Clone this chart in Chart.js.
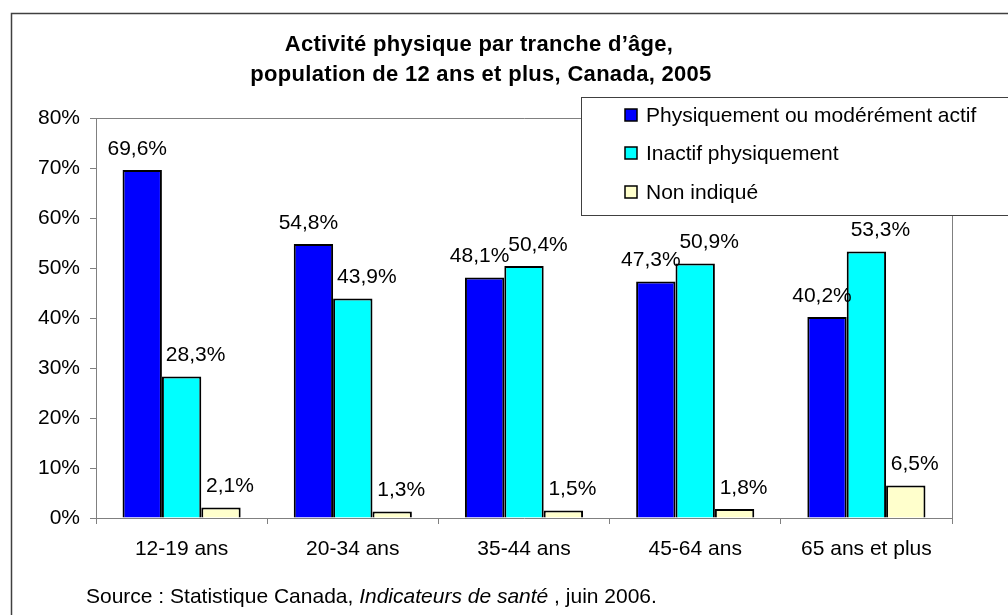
<!DOCTYPE html>
<html>
<head>
<meta charset="utf-8">
<script src="https://cdn.jsdelivr.net/npm/chart.js@4/dist/chart.umd.min.js"></script>
<style>
html,body{margin:0;padding:0;background:#fff;}
canvas{display:block;}
</style>
</head>
<body>
<canvas id="c" width="1008" height="615"></canvas>
<script>
const categories = ['12-19 ans', '20-34 ans', '35-44 ans', '45-64 ans', '65 ans et plus'];
const seriesNames = ['Physiquement ou modérément actif', 'Inactif physiquement', 'Non indiqué'];
const actif = [69.6, 54.8, 48.1, 47.3, 40.2];
const inactif = [28.3, 43.9, 50.4, 50.9, 53.3];
const nonIndique = [2.1, 1.3, 1.5, 1.8, 6.5];
const yTicks = [0, 10, 20, 30, 40, 50, 60, 70, 80];
const titleLines = ['Activité physique par tranche d\u2019âge,', 'population de 12 ans et plus, Canada, 2005'];
const sourceParts = [['Source : Statistique Canada, ', false], ['Indicateurs de santé', true], [' , juin 2006.', false]];

const colors = ['#0000FF', '#00FFFF', '#FFFFCC'];
const labelShift = [-5, 14, 9];
const FONT = '"Liberation Sans", Arial, sans-serif';
const FS = 21;

Chart.defaults.font.family = FONT;

const decorations = {
  id: 'decorations',
  beforeDraw(chart) {
    const ctx = chart.ctx;
    ctx.save();
    ctx.fillStyle = '#fff';
    ctx.fillRect(0, 0, chart.width, chart.height);
    ctx.strokeStyle = '#404040';
    ctx.lineWidth = 1.5;
    ctx.beginPath();
    ctx.moveTo(11.5, chart.height + 5);
    ctx.lineTo(11.5, 13.5);
    ctx.lineTo(chart.width + 5, 13.5);
    ctx.stroke();
    ctx.restore();
  },
  beforeDatasetsDraw(chart) {
    const ctx = chart.ctx, a = chart.chartArea;
    ctx.save();
    ctx.strokeStyle = '#808080';
    ctx.lineWidth = 1;
    ctx.beginPath();
    ctx.moveTo(a.left, a.top + 0.5);
    ctx.lineTo(a.right + 0.5, a.top + 0.5);
    ctx.lineTo(a.right + 0.5, a.bottom);
    ctx.stroke();
    ctx.restore();
  },
  afterDatasetsDraw(chart) {
    const ctx = chart.ctx;
    ctx.save();
    ctx.font = FS + 'px ' + FONT;
    ctx.fillStyle = '#000';
    ctx.textAlign = 'center';
    ctx.textBaseline = 'middle';
    chart.data.datasets.forEach((ds, i) => {
      const meta = chart.getDatasetMeta(i);
      meta.data.forEach((bar, j) => {
        const v = ds.data[j];
        ctx.fillText(v.toFixed(1).replace('.', ',') + '%', bar.x + labelShift[i], bar.y - 21);
      });
    });
    ctx.restore();
  },
  afterDraw(chart) {
    const ctx = chart.ctx;
    ctx.save();
    // title
    ctx.fillStyle = '#000';
    ctx.font = 'bold 22px ' + FONT;
    ctx.textAlign = 'center';
    ctx.textBaseline = 'middle';
    try { ctx.letterSpacing = '0.3px'; } catch (e) {}
    ctx.fillText(titleLines[0], 479, 45);
    ctx.fillText(titleLines[1], 481, 75);
    try { ctx.letterSpacing = '0px'; } catch (e) {}
    // legend
    ctx.fillStyle = '#fff';
    ctx.fillRect(581, 97, 440, 118);
    ctx.strokeStyle = '#404040';
    ctx.lineWidth = 1;
    ctx.strokeRect(581.5, 97.5, 440, 118);
    ctx.font = FS + 'px ' + FONT;
    ctx.textAlign = 'left';
    const rows = [115, 153, 192];
    chart.data.datasets.forEach((ds, i) => {
      const y = rows[i];
      ctx.fillStyle = ds.backgroundColor;
      ctx.fillRect(625, y - 6, 12, 12);
      ctx.strokeStyle = '#000';
      ctx.lineWidth = 1.5;
      ctx.strokeRect(625, y - 6, 12, 12);
      ctx.fillStyle = '#000';
      ctx.fillText(ds.label, 646, y + 1);
    });
    // source
    let x = 86;
    sourceParts.forEach(([txt, it]) => {
      ctx.font = (it ? 'italic ' : '') + FS + 'px ' + FONT;
      ctx.fillText(txt, x, 597);
      x += ctx.measureText(txt).width;
    });
    ctx.restore();
  }
};

new Chart(document.getElementById('c'), {
  type: 'bar',
  data: {
    labels: categories,
    datasets: [
      { label: seriesNames[0], data: actif, backgroundColor: colors[0] },
      { label: seriesNames[1], data: inactif, backgroundColor: colors[1] },
      { label: seriesNames[2], data: nonIndique, backgroundColor: colors[2] }
    ].map(d => Object.assign(d, { borderColor: '#000', borderWidth: 2, categoryPercentage: 0.69, barPercentage: 1 }))
  },
  options: {
    responsive: false,
    animation: false,
    devicePixelRatio: 1,
    layout: { padding: { left: 0, right: 56, top: 118, bottom: 0 } },
    plugins: { legend: { display: false }, title: { display: false }, tooltip: { enabled: false } },
    scales: {
      x: {
        grid: { offset: true, drawOnChartArea: false, tickLength: 6, color: '#808080' },
        border: { color: '#808080' },
        ticks: { color: '#000', font: { size: FS }, padding: 13 },
        afterFit(s) { s.height = 97; }
      },
      y: {
        min: yTicks[0], max: yTicks[yTicks.length - 1],
        afterBuildTicks(s) { s.ticks = yTicks.map(v => ({ value: v })); },
        grid: { drawOnChartArea: false, tickLength: 6, color: '#808080' },
        border: { color: '#808080' },
        ticks: { color: '#000', font: { size: FS }, padding: 10, callback: v => v + '%' },
        afterFit(s) { s.width = 96; }
      }
    }
  },
  plugins: [decorations]
});
</script>
</body>
</html>
